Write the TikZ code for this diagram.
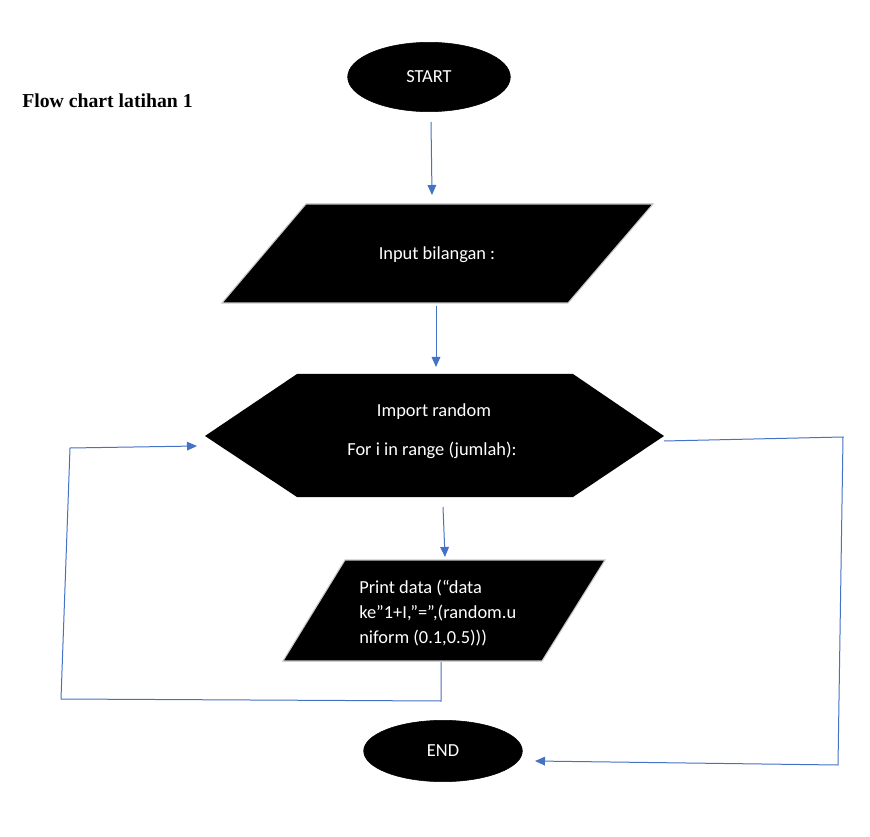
\documentclass[tikz,border=0pt]{standalone}
\usepackage{fontspec}
\setmainfont{Carlito}
\newfontfamily\titlefont{Liberation Serif}
\usetikzlibrary{shapes.geometric,arrows.meta}
\definecolor{lineblue}{HTML}{4472C4}
\begin{document}
\begin{tikzpicture}[x=0.75pt,y=-0.75pt,
  term/.style={ellipse,fill=black,draw=black,minimum width=122pt,minimum height=52pt,inner sep=0pt,text=white,font=\fontsize{13.8}{16}\selectfont},
  shapefill/.style={fill=black,draw=gray!45,line width=0.8pt},
  lbl/.style={text=white,font=\fontsize{13.8}{16}\selectfont,inner sep=0pt},
  conn/.style={draw=lineblue,line width=0.75pt},
  arr/.style={conn,-{Triangle[length=7.5pt,width=6.5pt]}}]
\useasboundingbox (0,0) rectangle (870,837);
% title
\node[anchor=west,font=\titlefont\bfseries\fontsize{14.8}{17}\selectfont,inner sep=0pt] (title) at (22,101) {Flow chart latihan 1};
% start
\node[term] (start) at (429,77) {START};
% input parallelogram
\fill[shapefill] (306,204) -- (653,204) -- (568,303) -- (222,303) -- cycle;
\node[lbl] (input) at (437,255) {Input bilangan :};
\coordinate (inT) at (432,195);
\coordinate (inB) at (436,306);
% hexagon
\fill[shapefill,draw=none] (205,436) -- (297,374) -- (573,374) -- (664,436) -- (573,497) -- (297,497) -- cycle;
\node[lbl] (imp) at (434,412) {Import random};
\node[lbl] (for) at (432,450) {For i in range (jumlah):};
\coordinate (hexT) at (436,367);
\coordinate (hexB) at (443,507);
\coordinate (hexL) at (197,446);
\coordinate (hexR) at (664,441);
% print parallelogram
\fill[shapefill] (345,560) -- (605,560) -- (542,661) -- (283,661) -- cycle;
\node[lbl,anchor=west,align=left,font=\fontsize{13.8}{18.75}\selectfont] (print) at (359,613) {Print data (“data\\ke”1+I,”=”,(random.u\\niform (0.1,0.5)))};
\coordinate (prT) at (445,557);
\coordinate (prB) at (441,662);
% end
\node[term,minimum width=119pt,minimum height=46pt] (end) at (443,751) {END};
\coordinate (endR) at (535,761);
% connectors
\draw[arr] (431,122) -- (inT);
\draw[arr] (inB) -- (hexT);
\draw[arr] (hexB) -- (prT);
\coordinate (lb) at (441,701);
\coordinate (ll) at (61,699);
\coordinate (lt) at (70,448);
\draw[conn] (prB) -- (lb) -- (ll);
\draw[conn] (ll) -- (lt);
\draw[arr] (lt) -- (hexL);
\coordinate (rt) at (843,437);
\coordinate (rb) at (838,765);
\draw[conn] (hexR) -- (rt) -- (rb);
\draw[arr] (rb) -- (endR);
\end{tikzpicture}
\end{document}
